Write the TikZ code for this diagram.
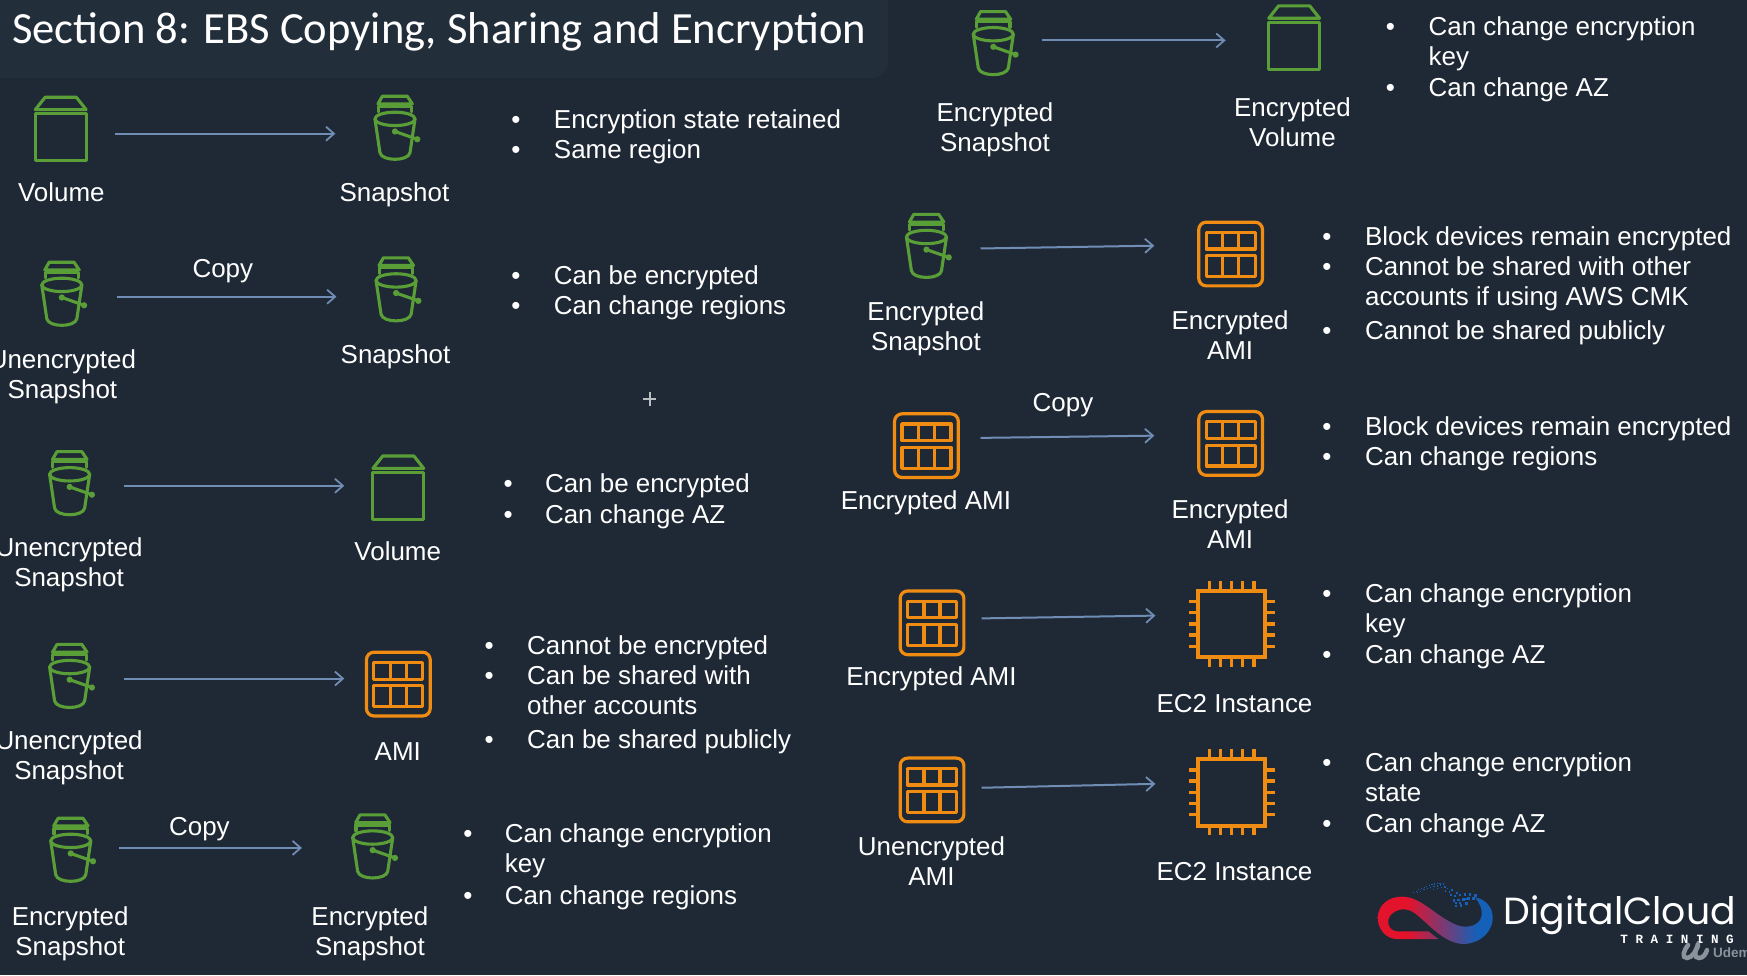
\documentclass[tikz,border=0pt]{standalone}
\usepackage{fontspec}
\setmainfont{Liberation Sans}
\newfontfamily\titlefont{Carlito}
\newfontfamily\logofont{Poppins}
\newfontfamily\logomono{Liberation Mono}
\usetikzlibrary{arrows.meta}
\definecolor{bgc}{HTML}{1F2935}
\definecolor{barc}{HTML}{232E3B}
\definecolor{grn}{HTML}{5A9E38}
\definecolor{org}{HTML}{F08C12}
\definecolor{flowc}{HTML}{6F8DB5}
\definecolor{lr}{HTML}{E4132C}
\definecolor{lb}{HTML}{1560B8}
\definecolor{udg}{HTML}{8A939B}
\pgfdeclarehorizontalshading{logoshade}{100bp}{color(0bp)=(lr); color(38bp)=(lr); color(68bp)=(lb); color(100bp)=(lb)}
\newcommand\txtfont{\fontsize{25.95}{30}\selectfont}
\tikzset{
  x=1.1142pt,y=-1.1142pt,
  every pic/.style={xshift=0.55pt,yshift=-1.1pt},
  flow/.style={draw=flowc,line width=2pt,-{Straight Barb[length=8pt,width=14pt,line width=1.8pt]}},
  lab/.style={text=white,font=\txtfont,align=center,inner sep=0pt,anchor=north,yshift=11.8pt},
  btxt/.style={text=white,font=\txtfont,align=left,inner sep=0pt,anchor=north west,yshift=11.8pt},
  bdot/.style={text=white,font=\txtfont,inner sep=0pt,anchor=north,yshift=11.8pt},
  gicon/.style={draw=grn,line width=3.1pt,line join=round,line cap=round},
  oicon/.style={draw=org,line width=3.2pt,line join=round},
  pics/volume/.style={code={
    \draw[gicon] (-22.8,-17.6) -- (-14,-28.7) -- (14,-28.7) -- (22.8,-17.6) -- cycle;
    \draw[gicon] (-22.8,-13.8) rectangle (22.8,28);
  }},
  pics/bucket/.style={code={
    \draw[gicon] (-15.3,-22.7) -- (-11.4,-29.6) -- (11,-29.6) -- (15.6,-22.7) -- cycle;
    \draw[gicon] (-15,-15.5) -- (-15,-20.6) -- (15,-20.6) -- (15,-15.5);
    \draw[gicon] (0,-9.3) ellipse (18 and 6);
    \draw[gicon] (-18,-9.3) -- (-13.5,21) .. controls (-12,29) and (12,29) .. (13.5,21) -- (18,-9.3);
    \draw[gicon] (0,2) -- (20,9);
    \fill[grn] (0,2) circle (2.8) (20,9) circle (2.8);
  }},
  pics/amigrid/.style={code={
    \draw[oicon,rounded corners=7.5pt] (-28.6,-28.6) rectangle (28.6,28.6);
    \draw[oicon] (-22,-19.5) rectangle (22,-4.5);
    \draw[oicon] (-22,1.5) rectangle (22,20.3);
    \draw[oicon] (-7.2,-19.5) -- (-7.2,-4.5) (7.2,-19.5) -- (7.2,-4.5);
    \draw[oicon] (-7.2,1.5) -- (-7.2,20.3) (7.2,1.5) -- (7.2,20.3);
  }},
  pics/chip/.style={code={
    \draw[oicon,line width=4pt,line join=miter] (-30,-30) rectangle (30,30);
    \foreach \p in {-20,-10,0,10,20}{
      \draw[oicon] (\p,-30) -- (\p,-38.5);
      \draw[oicon] (\p,30) -- (\p,38.5);
      \draw[oicon] (-30,\p) -- (-38.5,\p);
      \draw[oicon] (30,\p) -- (38.5,\p);
    }
  }},
}
\newcommand\bl[5]{\node[bdot] (#1d) at (#2,#5) {\strut\textbullet}; \node[btxt] (#1t) at (#3,#5) {#4};}
\newcommand\st{\strut}
\begin{document}
\begin{tikzpicture}
\useasboundingbox (0pt,0pt) rectangle (1747pt,-975pt);
\fill[bgc] (0pt,0pt) rectangle (1747pt,-975pt);
\fill[barc,rounded corners=16pt] (-30pt,30pt) rectangle (888pt,-78pt);
\node[text=white,font=\titlefont\fontsize{44.6}{48}\selectfont,inner sep=0pt,anchor=base west] (title) at (12pt,-43pt) {Section 8: EBS Copying, Sharing and Encryption};

% ---- left column, row 1
\pic (i1a) at (54,115) {volume};
\pic (i1b) at (354,115) {bucket};
\coordinate (a1) at (103,120); \coordinate (b1) at (301,120);
\draw[flow] (a1) -- (b1);
\node[lab] (l1a) at (55,172) {\st Volume};
\node[lab] (l1b) at (354,172) {\st Snapshot};
\bl{b1a}{463}{497}{\st Encryption state retained}{107}
\bl{b1b}{463}{497}{\st Same region}{134}

% row 2
\pic (i2a) at (55,264) {bucket};
\pic (i2b) at (355,260) {bucket};
\coordinate (a2) at (105,266.3); \coordinate (b2) at (302,266.3);
\draw[flow] (a2) -- (b2);
\node[lab] (c2) at (200,241) {\st Copy};
\node[lab] (l2a) at (56,322) {\st Unencrypted\\\st Snapshot};
\node[lab] (l2b) at (355,318) {\st Snapshot};
\bl{b2a}{463}{497}{\st Can be encrypted}{247}
\bl{b2b}{463}{497}{\st Can change regions}{274}

\node[inner sep=0pt] (cursor) at (583,358) {};
\draw[white!70!bgc,line width=2pt] (cursor.center) ++(-6,0) -- ++(12,0) (cursor.center) ++(0,-6) -- ++(0,12);

% row 3
\pic (i3a) at (62,434) {bucket};
\pic (i3b) at (357,437) {volume};
\coordinate (a3) at (111,436); \coordinate (b3) at (309,436);
\draw[flow] (a3) -- (b3);
\node[lab] (l3a) at (62,491) {\st Unencrypted\\\st Snapshot};
\node[lab] (l3b) at (357,495) {\st Volume};
\bl{b3a}{456}{489}{\st Can be encrypted}{434}
\bl{b3b}{456}{489}{\st Can change AZ}{461}

% row 4
\pic (i4a) at (62,607) {bucket};
\pic (i4b) at (357,613) {amigrid};
\coordinate (a4) at (111,609); \coordinate (b4) at (309,609);
\draw[flow] (a4) -- (b4);
\node[lab] (l4a) at (62,664) {\st Unencrypted\\\st Snapshot};
\node[lab] (l4b) at (357,674) {\st AMI};
\bl{b4a}{439}{473}{\st Cannot be encrypted}{579}
\bl{b4b}{439}{473}{\st Can be shared with\\\st other accounts}{606}
\bl{b4c}{439}{473}{\st Can be shared publicly}{663}

% row 5
\pic (i5a) at (63,763) {bucket};
\pic (i5b) at (334,760) {bucket};
\coordinate (a5) at (107,761); \coordinate (b5) at (271,761);
\draw[flow] (a5) -- (b5);
\node[lab] (c5) at (179,741) {\st Copy};
\node[lab] (l5a) at (63,822) {\st Encrypted\\\st Snapshot};
\node[lab] (l5b) at (332,822) {\st Encrypted\\\st Snapshot};
\bl{b5a}{420}{453}{\st Can change encryption\\\st key}{748}
\bl{b5b}{420}{453}{\st Can change regions}{803}

% ---- right column, row 1
\pic (j1a) at (891,39) {bucket};
\pic (j1b) at (1161,33) {volume};
\coordinate (p1) at (935,36.3); \coordinate (q1) at (1100,36.3);
\draw[flow] (p1) -- (q1);
\node[lab] (m1a) at (893,101) {\st Encrypted\\\st Snapshot};
\node[lab] (m1b) at (1160,96) {\st Encrypted\\\st Volume};
\bl{d1a}{1248}{1282}{\st Can change encryption\\\st key}{23}
\bl{d1b}{1248}{1282}{\st Can change AZ}{78}

% row 2
\pic (j2a) at (831,221) {bucket};
\pic (j2b) at (1104,227) {amigrid};
\coordinate (p2) at (880,223); \coordinate (q2) at (1036,220.5);
\draw[flow] (p2) -- (q2);
\node[lab] (m2a) at (831,279) {\st Encrypted\\\st Snapshot};
\node[lab] (m2b) at (1104,287) {\st Encrypted\\\st AMI};
\bl{d2a}{1191}{1225}{\st Block devices remain encrypted}{212}
\bl{d2b}{1191}{1225}{\st Cannot be shared with other\\\st accounts if using AWS CMK}{239}
\bl{d2c}{1191}{1225}{\st Cannot be shared publicly}{296}

% row 3
\pic (j3a) at (831,399) {amigrid};
\pic (j3b) at (1104,397) {amigrid};
\coordinate (p3) at (880,393); \coordinate (q3) at (1036,391);
\draw[flow] (p3) -- (q3);
\node[lab] (c3) at (954,361) {\st Copy};
\node[lab] (m3a) at (831,449) {\st Encrypted AMI};
\node[lab] (m3b) at (1104,457) {\st Encrypted\\\st AMI};
\bl{d3a}{1191}{1225}{\st Block devices remain encrypted}{382}
\bl{d3b}{1191}{1225}{\st Can change regions}{409}

% row 4
\pic (j4a) at (836,558) {amigrid};
\pic (j4b) at (1105,559) {chip};
\coordinate (p4) at (881,555); \coordinate (q4) at (1037,552.5);
\draw[flow] (p4) -- (q4);
\node[lab] (m4a) at (836,607) {\st Encrypted AMI};
\node[lab] (m4b) at (1108,631) {\st EC2 Instance};
\bl{d4a}{1191}{1225}{\st Can change encryption\\\st key}{532}
\bl{d4b}{1191}{1225}{\st Can change AZ}{587}

% row 5
\pic (j5a) at (836,708) {amigrid};
\pic (j5b) at (1105,710) {chip};
\coordinate (p5) at (881,707); \coordinate (q5) at (1037,703.5);
\draw[flow] (p5) -- (q5);
\node[lab] (m5a) at (836,759) {\st Unencrypted\\\st AMI};
\node[lab] (m5b) at (1108,782) {\st EC2 Instance};
\bl{d5a}{1191}{1225}{\st Can change encryption\\\st state}{684}
\bl{d5b}{1191}{1225}{\st Can change AZ}{739}

% ---- logo (units: 3x crop at 1360,860)
\begin{scope}[xshift=1360pt,yshift=-860pt,x=0.33333pt,y=-0.33333pt]
  \path[shading=logoshade]
    (235,237) -- (112,237) .. controls (75,237) and (53,205) .. (53,172)
    .. controls (55,135) and (85,110) .. (125,110)
    .. controls (185,110) and (220,165) .. (290,195)
    .. controls (325,208) and (362,195) .. (365,165)
    .. controls (367,145) and (358,128) .. (345,112)
    .. controls (385,120) and (400,150) .. (398,178)
    .. controls (394,225) and (350,252) .. (310,252)
    .. controls (250,250) and (205,190) .. (165,160)
    .. controls (140,142) and (115,145) .. (95,162)
    .. controls (75,180) and (85,213) .. (112,214)
    -- (205,214) -- cycle;
  \foreach \px/\py/\ps in {
    160/97/3,168/93/3,176/89/3,184/85/3,192/82/3,200/79/4,208/77/4,216/74/4,224/72/4,232/71/4,240/70/4,
    172/97/3,182/93/3,192/89/4,202/85/4,212/82/4,222/80/4,232/78/4,242/75/4,250/72/4,
    220/88/4,232/86/4,244/82/4,254/80/5,262/85/5,256/92/5,268/95/5,
    276/90/6,290/98/6,272/104/6,286/108/6,300/105/7,315/104/8,330/103/8,346/105/9,
    282/122/8,296/120/8,310/118/8,325/116/8,340/115/8,
    288/138/7,302/136/7,320/130/8,300/128/7,288/130/6,316/116/7}{
    \fill[lb] (\px-\ps/2,\py-\ps/2) rectangle ++(\ps,\ps);
  }
\end{scope}
\node[text=white,font=\logofont\fontsize{37.8}{42}\selectfont,inner sep=0pt,anchor=base east] (dc) at (1736pt,-924pt) {DigitalCloud};
\node[text=white,font=\logomono\bfseries\fontsize{12.6}{14}\selectfont,inner sep=0pt,anchor=base east] (tr) at (1734pt,-943pt) {T R A I N I N G};
\draw[udg,line width=4.5pt,line cap=round] (1688pt,-945pt) .. controls (1684pt,-950pt) and (1681pt,-958pt) .. (1687pt,-958pt) .. controls (1692pt,-958pt) and (1697pt,-950pt) .. (1698pt,-944pt);
\draw[udg,line width=4.5pt,line cap=round] (1698pt,-946pt) .. controls (1694pt,-952pt) and (1694pt,-958pt) .. (1699pt,-958pt) .. controls (1703pt,-958pt) and (1706pt,-954pt) .. (1707pt,-950pt);
\node[text=udg,font=\bfseries\fontsize{13.5}{15}\selectfont,inner sep=0pt,anchor=base west] (ud) at (1713pt,-957pt) {Udem};
\end{tikzpicture}
\end{document}
